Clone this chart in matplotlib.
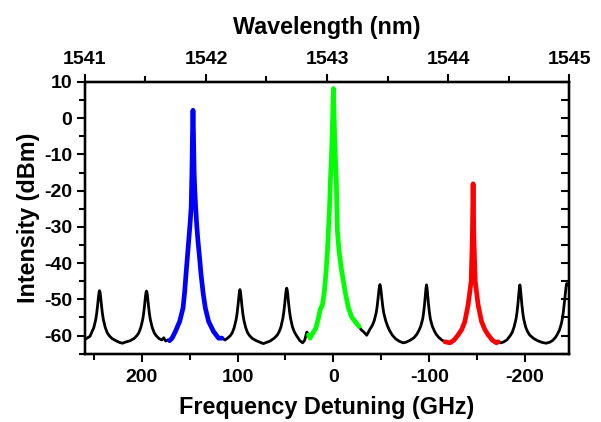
import numpy as np
import matplotlib
matplotlib.use('Agg')
import matplotlib.pyplot as plt
from matplotlib.ticker import MultipleLocator

plt.rcParams['font.family'] = ['Liberation Sans', 'DejaVu Sans']
plt.rcParams['font.weight'] = 'bold'
plt.rcParams['axes.unicode_minus'] = False

'''
Comb spectrum with three selected lines (blue, green, red)
'''

# black comb trace, split into the four visible pieces between the coloured lines
black_freq_1 = [259, 254, 250, 248, 247, 246, 245, 244.5, 244, 243.5, 243, 242, 241, 240, 238, 236, 234, 231,
                227, 223, 220, 217, 212, 208, 205, 203, 201, 199, 198, 197, 196, 195.5, 195, 194.5, 194, 193,
                192, 191, 189, 187, 185, 182, 179, 177, 175, 173, 171]
black_db_1 = [-61.0, -60.2, -57.8, -55.6, -53.9, -51.6, -49.0, -48.0, -47.6, -48.0, -49.0, -51.6, -53.9, -55.6,
              -57.8, -59.2, -60.0, -60.8, -61.4, -61.9, -62.1, -61.8, -61.4, -60.8, -60.0, -59.2, -57.8, -55.6,
              -53.9, -51.6, -49.0, -48.1, -47.7, -48.1, -49.0, -51.6, -53.9, -55.6, -57.8, -59.2, -60.0, -60.8,
              -61.2, -60.6, -61.5, -61.2, -61.4]

black_freq_2 = [116.3, 113, 110, 107.5, 105.5, 103.5, 101.5, 100.5, 99.5, 98.5, 98, 97.5, 97, 96.5, 95.5, 94.5,
                93.5, 91.5, 89.5, 87.5, 84.5, 80.5, 76, 73, 70, 66, 61.7, 58.7, 56.7, 54.7, 52.7, 51.7, 50.7,
                49.7, 49.2, 48.7, 48.2, 47.7, 46.7, 45.7, 44.7, 42.7, 40.7, 38.7, 35, 32, 30, 27.7, 26]
black_db_2 = [-60.7, -61.2, -60.6, -60.0, -59.2, -57.8, -55.6, -53.9, -51.6, -49.0, -47.9, -47.3, -47.9, -49.0,
              -51.6, -53.9, -55.6, -57.8, -59.2, -60.0, -60.8, -61.4, -61.9, -62.2, -61.9, -61.5, -60.7, -59.9,
              -59.0, -57.6, -55.2, -53.4, -51.1, -48.4, -47.4, -46.9, -47.4, -48.4, -51.1, -53.4, -55.2, -57.6,
              -59.0, -59.9, -61.4, -62.0, -61.3, -59.0, -59.8]

black_freq_3 = [-26.8, -29, -31.3, -34.8, -38.2, -40.6, -42.6, -44.6, -45.6, -46.6, -47.6, -48.1, -48.6, -49.1,
                -49.6, -50.6, -51.6, -52.6, -54.6, -56.6, -58.6, -61.6, -65, -69, -73, -76, -80, -84, -87.2,
                -89.2, -91.2, -93.2, -94.2, -95.2, -96.2, -96.7, -97.2, -97.7, -98.2, -99.2, -100.2, -101.2,
                -103.2, -105.2, -107.2, -110, -113, -116.4]
black_db_3 = [-57.5, -58.4, -58.9, -59.9, -58.2, -57.2, -55.9, -53.8, -52.1, -49.8, -47.3, -46.4, -45.9, -46.4,
              -47.3, -49.8, -52.1, -53.8, -55.9, -57.4, -58.6, -59.9, -60.9, -61.6, -62.0, -61.8, -61.3, -60.6,
              -59.6, -58.6, -57.4, -55.4, -53.6, -51.2, -48.2, -46.8, -46.0, -46.8, -48.2, -51.2, -53.6, -55.4,
              -57.4, -58.6, -59.6, -60.5, -61.2, -61.7]

black_freq_4 = [-171.9, -175, -178, -181, -184.6, -186.6, -188.6, -190.6, -191.6, -192.6, -193.6, -194.1, -194.6,
                -195.1, -195.6, -196.6, -197.6, -198.6, -200.6, -202.6, -205, -209, -213, -218, -222, -226, -229,
                -232, -234, -236, -238, -239, -240, -241, -242, -243, -243.5, -244.5]
black_db_4 = [-61.7, -62.0, -61.7, -61.2, -60.0, -59.1, -57.6, -55.4, -53.6, -51.2, -48.2, -46.8, -46.0, -46.8,
              -48.2, -51.2, -53.6, -55.4, -57.6, -58.9, -59.9, -60.8, -61.4, -61.9, -62.1, -61.8, -61.3, -60.4,
              -59.5, -58.4, -56.6, -55.2, -53.4, -51.0, -48.5, -46.2, -45.6, -45.9]

# selected lines
blue_freq = [171, 168.3, 164.9, 160.4, 156.9, 155.2, 153.8, 152.3, 151, 149.5, 148.4, 147.6, 147.0, 146.5, 146.0,
             145.3, 144.6, 143.7, 142.6, 141.3, 139.6, 138.1, 135.8, 133.6, 130.2, 125, 119.8, 116.3]
blue_db = [-61.4, -60.7, -58.9, -56.1, -52.4, -48.0, -43.1, -38.2, -33.9, -29.0, -24.6, -15.0, -4.0, 2.2, -4.0,
           -15.0, -20.0, -24.6, -29.5, -33.9, -38.6, -43.1, -48.5, -52.4, -56.1, -58.9, -60.7, -60.7]

green_freq = [26, 24.3, 22.5, 18.4, 15.6, 13.9, 11.4, 9.4, 7.6, 6.2, 5.2, 4.0, 3.1, 2.2, 1.4, 0.6, 0.0, -0.6,
              -1.4, -2.2, -3.1, -3.6, -4.2, -5.9, -8.7, -12.2, -15.6, -19.1, -24.3, -26.8]
green_db = [-59.8, -60.7, -59.8, -58.0, -55.2, -52.9, -51.5, -47.8, -42.2, -36.7, -31.1, -24.5, -17.2, -12.0,
            -6.0, 2.0, 8.2, 2.0, -6.0, -12.0, -17.2, -24.5, -31.1, -36.7, -42.2, -47.8, -52.3, -54.9, -56.7, -57.5]

red_freq = [-116.4, -121.6, -126, -130.2, -134, -137.2, -140.6, -143.8, -145, -145.8, -146.6, -148, -151, -154.6,
            -158, -161.5, -166, -170.2, -171.9]
red_db = [-61.7, -62.0, -61.2, -59.8, -58.3, -56.1, -51.5, -45.0, -33.0, -18.1, -33.0, -45.0, -51.5, -56.1,
          -58.3, -59.8, -61.3, -62.0, -61.7]

fig = plt.figure(figsize=(6.01, 4.22), dpi=100)
ax = fig.add_axes([0.1414, 0.1618, 0.8054, 0.6439])

for f, p in [(black_freq_1, black_db_1), (black_freq_2, black_db_2),
             (black_freq_3, black_db_3), (black_freq_4, black_db_4)]:
    ax.plot(f, p, color='black', linewidth=2.0, solid_joinstyle='round')

ax.plot(blue_freq, blue_db, color=(0, 0, 1), linewidth=3.4, solid_capstyle='round')
ax.plot(green_freq, green_db, color=(0, 1, 0), linewidth=3.4, solid_capstyle='round')
ax.plot(red_freq, red_db, color=(1, 0, 0), linewidth=3.4, solid_capstyle='round')

ax.set_xlim(259.2, -245.9)
ax.set_ylim(-65, 10)
ax.xaxis.set_major_locator(MultipleLocator(100))
ax.xaxis.set_minor_locator(MultipleLocator(50))
ax.yaxis.set_major_locator(MultipleLocator(10))
ax.yaxis.set_minor_locator(MultipleLocator(5))
ax.tick_params(which='both', direction='out', width=1.5, labelsize=14, top=False, right=False)
ax.tick_params(which='major', length=6)
ax.tick_params(which='minor', length=4)
ax.tick_params(axis='x', pad=5)
ax.tick_params(axis='y', pad=3)
for s in ax.spines.values():
    s.set_linewidth(1.6)

ax.set_xlabel('Frequency Detuning (GHz)', fontsize=16.8, fontweight='bold')
ax.set_ylabel('Intensity (dBm)', fontsize=16.8, fontweight='bold')
ax.xaxis.set_label_coords(0.5, -0.155)
ax.yaxis.set_label_coords(-0.092, 0.5)

# wavelength scale along the top
ax_top = ax.twiny()
ax_top.set_xlim(1541, 1545)
ax_top.xaxis.set_major_locator(MultipleLocator(1))
ax_top.xaxis.set_minor_locator(MultipleLocator(0.5))
ax_top.tick_params(which='both', direction='out', width=1.5, labelsize=14, pad=4)
ax_top.tick_params(which='major', length=6)
ax_top.tick_params(which='minor', length=4)
ax_top.set_xlabel('Wavelength (nm)', fontsize=16.8, fontweight='bold')
ax_top.xaxis.set_label_coords(0.5, 1.175)

# inward ticks on the right side, no labels
ax_r = ax.twinx()
ax_r.set_ylim(-65, 10)
ax_r.yaxis.set_major_locator(MultipleLocator(5))
ax_r.tick_params(which='both', direction='in', width=1.5, length=6, labelright=False)
for s in ax_top.spines.values():
    s.set_linewidth(1.6)
for s in ax_r.spines.values():
    s.set_linewidth(1.6)

plt.savefig('out.png', dpi=100)
